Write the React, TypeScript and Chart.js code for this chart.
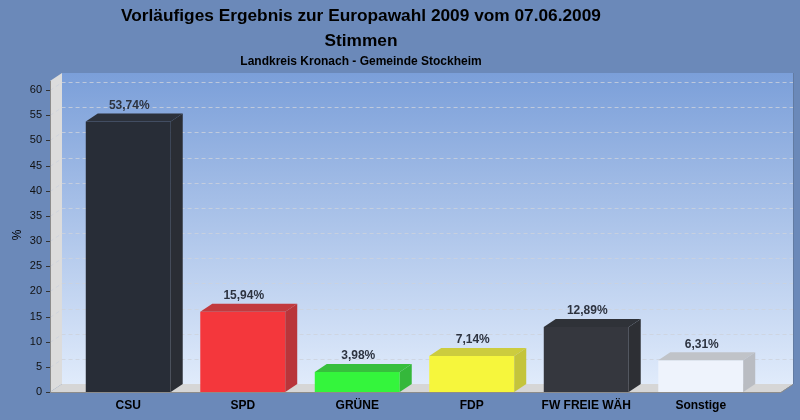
import { useEffect, useRef } from 'react';
import { Chart, registerables } from 'chart.js';

Chart.register(...registerables);

const parties = ['CSU', 'SPD', 'GRÜNE', 'FDP', 'FW FREIE WÄH', 'Sonstige'];
const shares = [53.74, 15.94, 3.98, 7.14, 12.89, 6.31];
const frontColors = ['#282d37', '#f4373c', '#34f53c', '#f6f63c', '#35373e', '#eef3fc'];
const sideColors = ['#2a2d34', '#b9353a', '#35b83b', '#c4c43b', '#2d2f34', '#b9bcc2'];
const topColors = ['#2c313b', '#c23a3e', '#37bf3d', '#cccc3e', '#2f3238', '#c0c3c8'];
const titleLines = ['Vorläufiges Ergebnis zur Europawahl 2009 vom 07.06.2009', 'Stimmen'];
const subtitle = 'Landkreis Kronach - Gemeinde Stockheim';
const yUnit = '%';

const FONT = '"Liberation Sans", Arial, sans-serif';
const DX = 12;
const DY = 8;

const fmt = (v: number) => v.toFixed(2).replace('.', ',') + '%';

const poly = (ctx: CanvasRenderingContext2D, pts: number[][], fill: string) => {
  ctx.beginPath();
  ctx.moveTo(pts[0][0], pts[0][1]);
  for (let i = 1; i < pts.length; i++) ctx.lineTo(pts[i][0], pts[i][1]);
  ctx.closePath();
  ctx.fillStyle = fill;
  ctx.fill();
};

const frame = {
  id: 'frame',
  beforeDraw(chart: any) {
    const { ctx, width, height } = chart;
    ctx.save();
    ctx.fillStyle = '#6b89b9';
    ctx.fillRect(0, 0, width, height);
    ctx.fillStyle = '#000';
    ctx.textAlign = 'center';
    ctx.textBaseline = 'alphabetic';
    ctx.font = `bold 17.3px ${FONT}`;
    ctx.fillText(titleLines[0], 361, 21);
    ctx.fillText(titleLines[1], 361, 46);
    ctx.font = `bold 12px ${FONT}`;
    ctx.fillText(subtitle, 361, 65);
    ctx.restore();
  },
  beforeDatasetsDraw(chart: any) {
    const { ctx } = chart;
    const y = chart.scales.y;
    const x0 = 50;
    const x1 = 781;
    const yb = y.getPixelForValue(0);
    const yt = y.getPixelForValue(y.max) - 9;
    ctx.save();
    // back wall
    const g = ctx.createLinearGradient(0, yt - DY, 0, yb - DY);
    g.addColorStop(0, '#7b9fd9');
    g.addColorStop(1, '#e0ebfb');
    ctx.fillStyle = g;
    ctx.fillRect(x0 + DX, yt - DY, x1 - x0, yb - yt);
    ctx.strokeStyle = 'rgba(90,110,140,0.5)';
    ctx.lineWidth = 1;
    ctx.beginPath();
    ctx.moveTo(x1 + DX + 0.5, yt - DY);
    ctx.lineTo(x1 + DX + 0.5, yb - DY);
    ctx.stroke();
    // side wall
    poly(ctx, [[x0, yb], [x0, yt], [x0 + DX, yt - DY], [x0 + DX, yb - DY]], '#dcdcdc');
    // floor
    poly(ctx, [[x0, yb], [x0 + DX, yb - DY], [x1 + DX, yb - DY], [x1, yb]], '#d6d6d6');
    // grid lines
    ctx.setLineDash([4, 3]);
    ctx.strokeStyle = 'rgba(205,210,220,0.8)';
    y.ticks.forEach((t: any) => {
      if (t.value === 0) return;
      const py = Math.round(y.getPixelForValue(t.value)) + 0.5;
      ctx.beginPath();
      ctx.moveTo(x0, py);
      ctx.lineTo(x0 + DX, py - DY);
      ctx.lineTo(x1 + DX, py - DY);
      ctx.stroke();
    });
    ctx.setLineDash([]);
    // axis edges and tick marks
    ctx.strokeStyle = '#8c8c8c';
    ctx.beginPath();
    ctx.moveTo(x0 + 0.5, yt);
    ctx.lineTo(x0 + 0.5, yb + 0.5);
    ctx.lineTo(x1, yb + 0.5);
    ctx.lineTo(x1 + DX, yb - DY + 0.5);
    ctx.stroke();
    ctx.strokeStyle = '#333';
    y.ticks.forEach((t: any) => {
      const py = Math.round(y.getPixelForValue(t.value)) + 0.5;
      ctx.beginPath();
      ctx.moveTo(x0 - 4, py);
      ctx.lineTo(x0, py);
      ctx.stroke();
    });
    // axis unit
    ctx.fillStyle = '#000';
    ctx.font = `12px ${FONT}`;
    ctx.textAlign = 'center';
    ctx.textBaseline = 'middle';
    ctx.translate(18, 235);
    ctx.rotate(-Math.PI / 2);
    ctx.fillText(yUnit, 0, 0);
    ctx.restore();
  },
  afterDatasetsDraw(chart: any) {
    const { ctx } = chart;
    const meta = chart.getDatasetMeta(0);
    ctx.save();
    meta.data.forEach((bar: any, i: number) => {
      const { x, y, base, width } = bar.getProps(['x', 'y', 'base', 'width'], true);
      const l = x - width / 2;
      const r = x + width / 2;
      poly(ctx, [[l, y], [l + DX, y - DY], [r + DX, y - DY], [r, y]], topColors[i]);
      poly(ctx, [[r, y], [r + DX, y - DY], [r + DX, base - DY], [r, base]], sideColors[i]);
      ctx.fillStyle = '#2d3340';
      ctx.font = `bold 12px ${FONT}`;
      ctx.textAlign = 'center';
      ctx.textBaseline = 'bottom';
      ctx.fillText(fmt(shares[i]), x + 1, y - DY - 2);
    });
    ctx.restore();
  },
};

export default function App() {
  const canvasRef = useRef<HTMLCanvasElement>(null);

  useEffect(() => {
    if (!canvasRef.current) return;
    const chart = new Chart(canvasRef.current, {
      type: 'bar',
      data: {
        labels: parties,
        datasets: [
          {
            data: shares,
            backgroundColor: frontColors,
            borderWidth: 0,
            categoryPercentage: 1,
            barPercentage: 0.742,
          },
        ],
      },
      options: {
        responsive: false,
        animation: false,
        devicePixelRatio: 1,
        layout: { padding: { top: 90, left: 0, right: 42, bottom: 0 } },
        plugins: {
          legend: { display: false },
          tooltip: { enabled: false },
        },
        scales: {
          x: {
            grid: { display: false, drawTicks: false },
            border: { display: false },
            ticks: { color: '#000', font: { family: FONT, size: 12, weight: 'bold' }, padding: 6, maxRotation: 0 },
            afterFit: (s: any) => { s.height = 28; },
          },
          y: {
            min: 0,
            max: 60,
            grid: { display: false, drawTicks: true, tickLength: 26 },
            border: { display: false },
            ticks: { stepSize: 5, color: '#111', font: { family: FONT, size: 11 }, padding: 3 },
            afterFit: (s: any) => { s.width = 71; },
          },
        },
      },
      plugins: [frame],
    });
    return () => chart.destroy();
  }, []);

  return (
    <div style={{ position: 'fixed', left: 0, top: 0, width: 800, height: 420 }}>
      <canvas ref={canvasRef} width={800} height={420} />
    </div>
  );
}
